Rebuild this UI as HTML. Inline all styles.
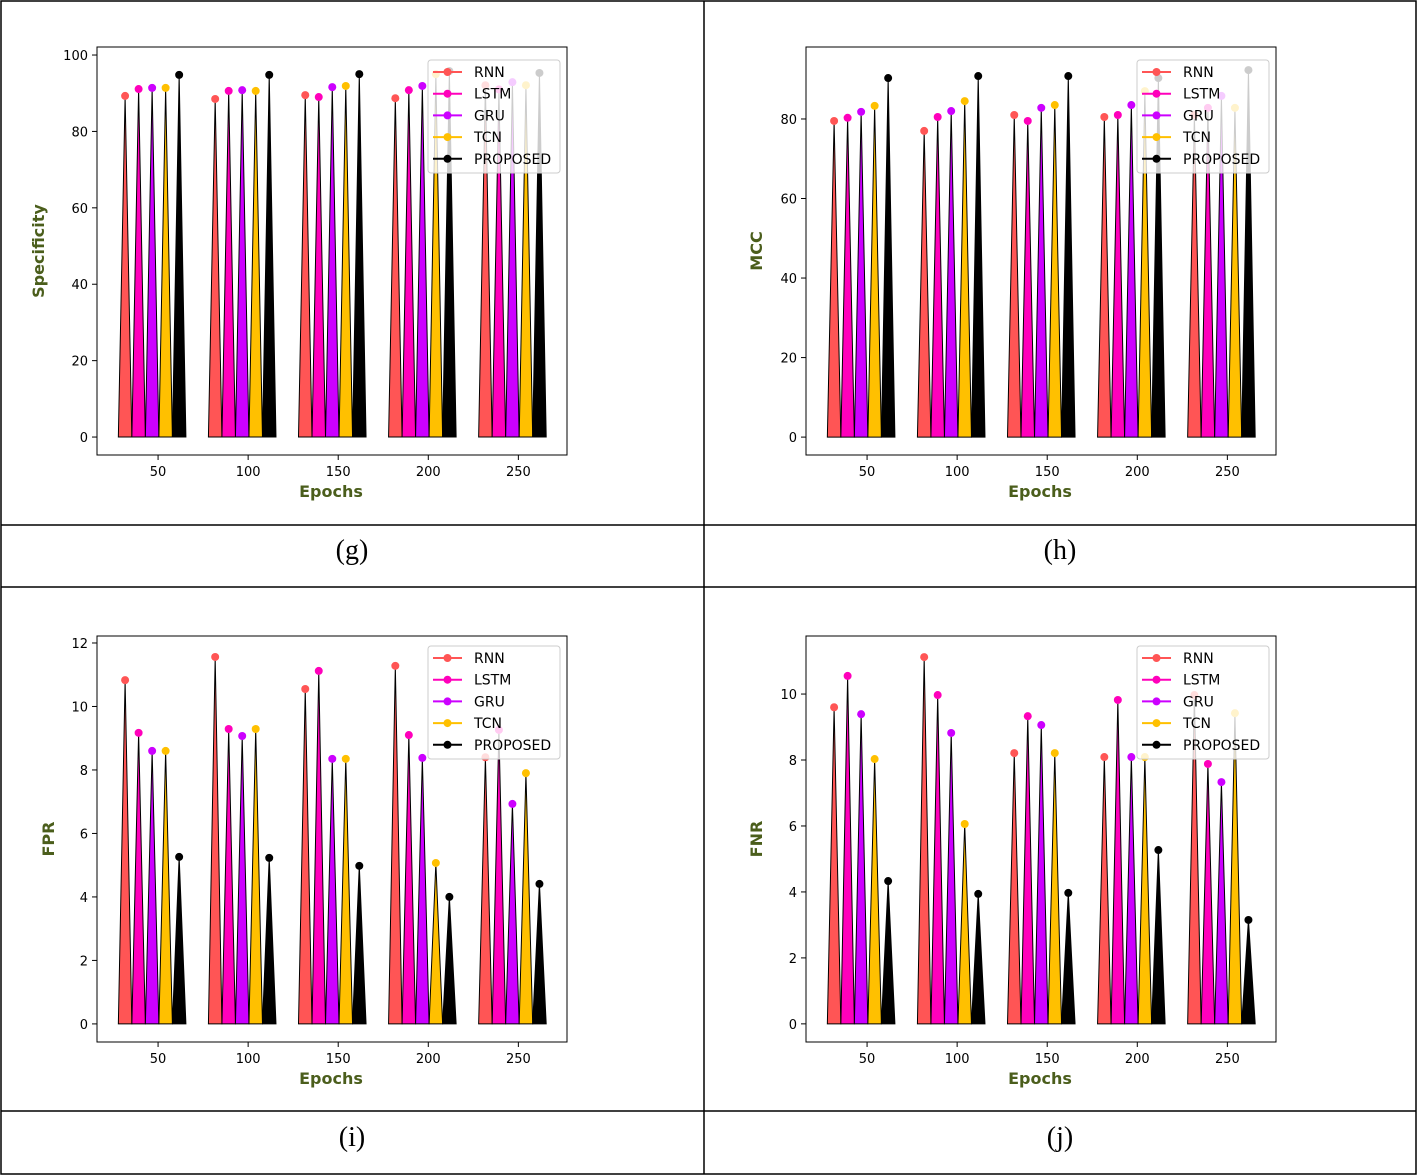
<!DOCTYPE html>
<html><head><meta charset="utf-8"><style>
body{margin:0;background:#fff;}
svg{display:block;font-family:"DejaVu Sans","Liberation Sans",sans-serif;}
</style></head><body>
<svg id="fig" width="1418" height="1176" viewBox="0 0 1418 1176">
<g stroke="#000" stroke-width="1.5" fill="none">
<rect x="1" y="1" width="1415" height="1173"/>
<line x1="704" y1="1" x2="704" y2="1174"/>
<line x1="1" y1="525" x2="1416" y2="525"/>
<line x1="1" y1="587" x2="1416" y2="587"/>
<line x1="1" y1="1111" x2="1416" y2="1111"/>
</g>
<g font-family="Liberation Serif, serif" font-size="28" text-anchor="middle">
<text x="352" y="559">(g)</text>
<text x="1060" y="559">(h)</text>
<text x="352" y="1146">(i)</text>
<text x="1060" y="1146">(j)</text>
</g>
</svg>
<script>
const series = ['RNN','LSTM','GRU','TCN','PROPOSED'];
const colors = ['#ff5555','#ff00bb','#cc00ff','#ffc000','#000000'];
const groupEpochs = [31.7,81.7,131.7,181.7,231.7];
const offsets = [0,7.5,15,22.5,30];
const xTicks = [50,100,150,200,250];
const specRNN=[89.3,88.5,89.5,88.7,92.1], specLSTM=[91.1,90.6,89.0,90.8,91.0], specGRU=[91.4,90.8,91.6,91.9,92.9], specTCN=[91.4,90.6,91.9,95.0,92.1], specPROP=[94.8,94.8,95.0,95.8,95.3];
const mccRNN=[79.5,77.0,81.0,80.5,81.0], mccLSTM=[80.3,80.5,79.5,81.0,82.8], mccGRU=[81.8,82.0,82.8,83.5,85.8], mccTCN=[83.3,84.5,83.5,87.0,82.8], mccPROP=[90.3,90.8,90.8,90.3,92.3];
const fprRNN=[10.83,11.56,10.55,11.28,8.4], fprLSTM=[9.17,9.29,11.12,9.1,9.26], fprGRU=[8.6,9.07,8.35,8.38,6.93], fprTCN=[8.6,9.29,8.35,5.07,7.9], fprPROP=[5.26,5.23,4.98,4.0,4.41];
const fnrRNN=[9.6,11.12,8.21,8.09,9.97], fnrLSTM=[10.55,9.97,9.33,9.82,7.88], fnrGRU=[9.39,8.82,9.06,8.09,7.33], fnrTCN=[8.03,6.06,8.21,8.09,9.42], fnrPROP=[4.33,3.94,3.97,5.27,3.15];
const specTicks=[0,20,40,60,80,100], mccTicks=[0,20,40,60,80], fprTicks=[0,2,4,6,8,10,12], fnrTicks=[0,2,4,6,8,10];

const panels=[
 {id:'g',label:'Specificity',data:[specRNN,specLSTM,specGRU,specTCN,specPROP],ticks:specTicks,dx:0,top:47,bot:455,ymin:-4.7,ymax:102.1,ylx:44,lgy:13},
 {id:'h',label:'MCC',data:[mccRNN,mccLSTM,mccGRU,mccTCN,mccPROP],ticks:mccTicks,dx:709,top:47,bot:455,ymin:-4.5,ymax:98.1,ylx:762,lgy:13},
 {id:'i',label:'FPR',data:[fprRNN,fprLSTM,fprGRU,fprTCN,fprPROP],ticks:fprTicks,dx:0,top:636,bot:1042,ymin:-0.57,ymax:12.22,ylx:54,lgy:10},
 {id:'j',label:'FNR',data:[fnrRNN,fnrLSTM,fnrGRU,fnrTCN,fnrPROP],ticks:fnrTicks,dx:709,top:636,bot:1042,ymin:-0.55,ymax:11.76,ylx:762,lgy:10}
];
const NS='http://www.w3.org/2000/svg';
const fig=document.getElementById('fig');
function mk(tag,attrs,parent,txt){const e=document.createElementNS(NS,tag);for(const k in attrs)e.setAttribute(k,attrs[k]);if(txt!==undefined)e.textContent=txt;parent.appendChild(e);return e;}
panels.forEach(p=>{
 const L=97+p.dx,R=567+p.dx;
 const xs=v=>L+(v-16.1)*(R-L)/(277-16.1);
 const ys=v=>p.bot-(v-p.ymin)*(p.bot-p.top)/(p.ymax-p.ymin);
 const g=mk('g',{},fig);
 
 
 mk('rect',{x:L,y:p.top,width:R-L,height:p.bot-p.top,fill:'#fff',stroke:'#000','stroke-width':1},g);
 p.ticks.forEach(t=>{const y=ys(t);
  mk('line',{x1:L-5,y1:y,x2:L,y2:y,stroke:'#000'},g);
  const tx=mk('text',{x:L-9,y:y+5,'font-size':13,'text-anchor':'end'},g,String(t));
  
  });
 xTicks.forEach(t=>{const x=xs(t);
  mk('line',{x1:x,y1:p.bot,x2:x,y2:p.bot+5,stroke:'#000'},g);
  const tx=mk('text',{x:x,y:p.bot+21,'font-size':13,'text-anchor':'middle'},g,String(t));
  
  });
 const xl=mk('text',{x:(L+R)/2-1,y:p.bot+42,'font-size':16,'font-weight':'bold',fill:'#4b5e1c','text-anchor':'middle'},g,'Epochs');
 
 
 const yl=mk('text',{x:p.ylx,y:(p.top+p.bot)/2,'font-size':16,'font-weight':'bold',fill:'#4b5e1c','text-anchor':'middle',transform:`rotate(-90 ${p.ylx} ${(p.top+p.bot)/2})`},g,p.label);
 
 
 const y0=ys(0);
 groupEpochs.forEach((ge,gi)=>{
  series.forEach((s,si)=>{
   const c=ge+offsets[si],v=p.data[si][gi];
   const tri=mk('polygon',{points:`${xs(c-3.75)},${y0} ${xs(c)},${ys(v)} ${xs(c+3.75)},${y0}`,fill:colors[si],stroke:'#000','stroke-width':1},g);
   
   
   const m=mk('circle',{cx:xs(c),cy:ys(v),r:4,fill:colors[si]},g);
   
   
  });
 });
 const lx=428+p.dx,ly=p.top+p.lgy;
 const lg=mk('g',{},g);
 
 
 mk('rect',{x:lx,y:ly,width:132,height:113,rx:3,fill:'rgba(255,255,255,0.8)',stroke:'#ccc'},lg);
 series.forEach((s,si)=>{const yy=ly+12+si*21.7;
  mk('line',{x1:lx+5,y1:yy,x2:lx+34,y2:yy,stroke:colors[si],'stroke-width':2},lg);
  mk('circle',{cx:lx+19.5,cy:yy,r:4,fill:colors[si]},lg);
  const t=mk('text',{x:lx+46,y:yy+5,'font-size':14},lg,s);
  
  });
});
</script>
</body></html>
